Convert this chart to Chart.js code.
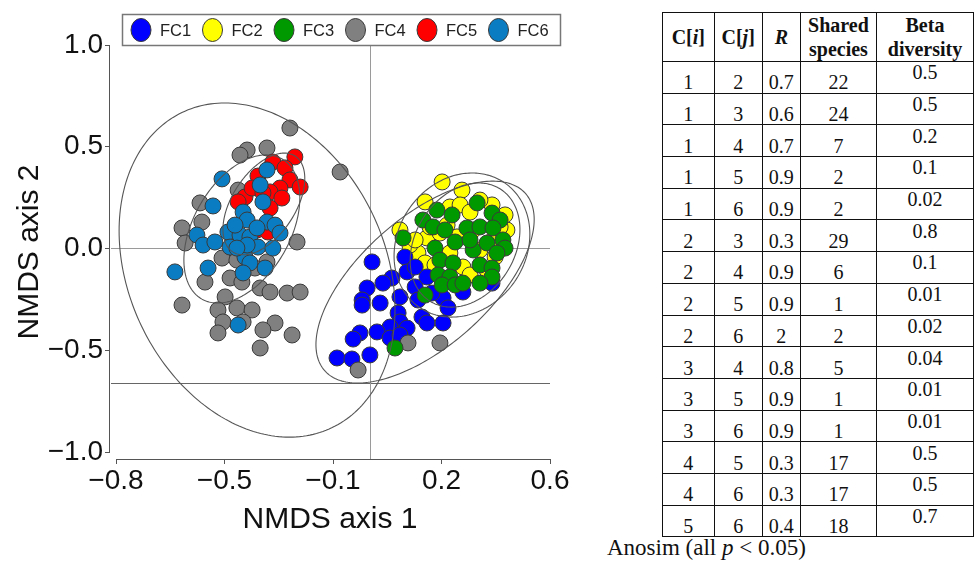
<!DOCTYPE html>
<html><head><meta charset="utf-8">
<script src="https://cdn.jsdelivr.net/npm/chart.js@4.4.1/dist/chart.umd.min.js"></script>
<style>
html,body{margin:0;padding:0;background:#fff;width:974px;height:562px;overflow:hidden;position:relative;}
#wrap{position:absolute;left:0;top:0;width:600px;height:562px;}
#tbl{position:absolute;left:662px;top:12px;border-collapse:collapse;font-family:"Liberation Serif","Times New Roman",serif;font-size:20px;color:#111;table-layout:fixed;}
#tbl td,#tbl th{border:1px solid #111;text-align:center;padding:0;vertical-align:middle;line-height:20px;}
#tbl th{height:46px;line-height:24px;font-weight:bold;}
#tbl td{height:30.7px;}
#tbl td span{position:relative;top:5px;}
#tbl td.beta span{top:-5px;}
#note{position:absolute;left:607px;top:536px;line-height:24px;font-family:"Liberation Serif","Times New Roman",serif;font-size:23px;color:#111;white-space:nowrap;}
</style></head>
<body>
<div id="wrap"><canvas id="c" width="600" height="562"></canvas></div>
<table id="tbl"></table>
<div id="note">Anosim (all <i>p</i> &lt; 0.05)</div>
<script>
// ---------------- data ----------------
const categories = ['FC1','FC2','FC3','FC4','FC5','FC6'];
const seriesColors = ['#0000ff','#ffff00','#009a00','#808080','#ff0000','#0a7dc2'];

const fc1X = [0.026,0.132,0.139,0.165,0.090,0.061,0.010,0.165,0.116,-0.006,0.052,-0.006,0.110,0.116,0.187,0.203,0.255,0.084,0.139,0.042,-0.013,-0.035,0.084,0.116,-0.087,-0.039,0.019,0.255,0.271,0.219,0.203,0.319,0.413,0.174];
const fc1Y = [-0.066,-0.042,-0.115,-0.091,-0.145,-0.170,-0.194,-0.189,-0.238,-0.253,-0.268,-0.278,-0.317,-0.361,-0.337,-0.366,-0.366,-0.386,-0.391,-0.410,-0.415,-0.445,-0.440,-0.425,-0.538,-0.543,-0.523,-0.243,-0.292,-0.219,-0.140,-0.214,-0.170,-0.253];

const fc2X = [0.252,0.316,0.197,0.116,0.277,0.310,0.413,0.342,0.461,0.203,0.174,0.197,0.277,0.319,0.423,0.374,0.416,0.439,0.300,0.245,0.352,0.397,0.213,0.268,0.148,0.229,0.342,0.455,0.374,0.165];
const fc2Y = [0.327,0.287,0.229,0.091,0.204,0.214,0.214,0.179,0.091,0.052,-0.022,-0.071,-0.022,-0.091,-0.042,-0.007,0.042,0.106,0.057,0.076,0.091,-0.106,0.106,0.115,0.017,-0.081,-0.130,0.165,0.238,0.042];

const fc3X = [0.235,0.190,0.284,0.365,0.413,0.439,0.126,0.223,0.261,0.332,0.374,0.416,0.294,0.229,0.352,0.397,0.448,0.455,0.245,0.287,0.374,0.413,0.239,0.277,0.413,0.252,0.294,0.319,0.374,0.197,0.100,0.429,0.342];
const fc3Y = [0.189,0.140,0.165,0.224,0.174,0.140,0.052,0.106,0.091,0.101,0.106,0.101,0.032,0.002,-0.007,0.027,0.042,0.002,-0.057,-0.071,-0.081,-0.096,-0.130,-0.140,-0.140,-0.179,-0.179,-0.170,-0.170,-0.229,-0.489,-0.022,0.042];

const fc4X = [-0.239,-0.377,-0.400,-0.313,-0.077,-0.406,-0.529,-0.523,-0.587,-0.577,-0.216,-0.458,-0.410,-0.513,-0.432,-0.394,-0.313,-0.335,-0.303,-0.248,-0.206,-0.587,-0.448,-0.471,-0.410,-0.361,-0.455,-0.471,-0.390,-0.287,-0.326,-0.232,-0.335,0.142,0.245,-0.019,-0.352];
const fc4Y = [0.592,0.484,0.459,0.494,0.376,0.287,0.224,0.130,0.101,0.027,0.032,-0.047,-0.057,-0.165,-0.145,-0.165,-0.066,-0.194,-0.214,-0.219,-0.214,-0.278,-0.238,-0.302,-0.292,-0.302,-0.361,-0.415,-0.361,-0.366,-0.400,-0.425,-0.489,-0.464,-0.464,-0.597,-0.096];

const fc5X = [-0.294,-0.223,-0.255,-0.342,-0.239,-0.206,-0.271,-0.303,-0.384,-0.406,-0.265,-0.303,-0.361,-0.326,-0.345,-0.310];
const fc5Y = [0.425,0.450,0.396,0.356,0.337,0.302,0.297,0.278,0.253,0.229,0.248,0.199,0.297,0.273,0.091,0.081];

const fc6X = [-0.458,-0.313,-0.487,-0.335,-0.326,-0.390,-0.377,-0.313,-0.287,-0.271,-0.539,-0.519,-0.481,-0.439,-0.432,-0.400,-0.368,-0.342,-0.294,-0.384,-0.368,-0.390,-0.319,-0.503,-0.610,-0.406,-0.345,-0.416,-0.377,-0.410];
const fc6Y = [0.342,0.386,0.209,0.312,0.229,0.179,0.140,0.130,0.115,0.076,0.066,0.017,0.032,0.081,0.007,0.066,0.057,0.007,0.002,-0.042,-0.071,-0.120,-0.096,-0.096,-0.115,-0.376,0.101,0.115,0.017,0.002];

// group ellipses (centre, half-extent x, half-extent y, correlation)
const ellipseCX = [0.197,0.316,0.326,-0.345,-0.323,-0.394];
const ellipseCY = [-0.165,0.017,0.017,-0.106,0.219,0.096];
const ellipseRX = [0.352,0.219,0.177,0.445,0.132,0.187];
const ellipseRY = [0.496,0.354,0.305,0.821,0.250,0.364];
const ellipseCorr = [0.62,0.15,0.25,-0.234,0.50,0.42];

// reference lines
const refLineX = [0.02];
const refLineY = [0, -0.66];

// ticks
const xTickValues = [-0.8,-0.45,-0.1,0.25,0.6];
const xTickLabels = ['\u22120.8','\u22120.5','\u22120.1','0.2','0.6'];
const yTickValues = [-1,-0.5,0,0.5,1];
const yTickLabels = ['\u22121.0','\u22120.5','0.0','0.5','1.0'];

// table
const tableCi = [1,1,1,1,1,2,2,2,2,3,3,3,4,4,5];
const tableCj = [2,3,4,5,6,3,4,5,6,4,5,6,5,6,6];
const tableR = ['0.7','0.6','0.7','0.9','0.9','0.3','0.9','0.9','2','0.8','0.9','0.9','0.3','0.3','0.4'];
const tableShared = [22,24,7,2,2,29,6,1,2,5,1,1,17,17,18];
const tableBeta = ['0.5','0.5','0.2','0.1','0.02','0.8','0.1','0.01','0.02','0.04','0.01','0.01','0.5','0.5','0.7'];

// ---------------- table ----------------
(function(){
  const t = document.getElementById('tbl');
  const widths = [54,50,40,78,100];
  let html = '<colgroup>' + widths.map(w=>'<col style="width:'+w+'px">').join('') + '</colgroup>';
  html += '<tr><th>C[<i>i</i>]</th><th>C[<i>j</i>]</th><th><i>R</i></th><th>Shared<br>species</th><th>Beta<br>diversity</th></tr>';
  for (let k=0;k<tableCi.length;k++){
    html += '<tr><td><span>'+tableCi[k]+'</span></td><td><span>'+tableCj[k]+'</span></td><td><span>'+tableR[k]+'</span></td><td><span>'+tableShared[k]+'</span></td><td class="beta"><span>'+tableBeta[k]+'</span></td></tr>';
  }
  t.innerHTML = html;
})();

// ---------------- chart ----------------
const seriesX = [fc1X,fc2X,fc3X,fc4X,fc5X,fc6X];
const seriesY = [fc1Y,fc2Y,fc3Y,fc4Y,fc5Y,fc6Y];
const drawOrder = [5,6,3,4,2,1];
const FONT = '"Liberation Sans", Arial, sans-serif';

const datasets = categories.map((name,i)=>({
  label: name,
  data: seriesX[i].map((x,k)=>({x:x, y:seriesY[i][k]})),
  backgroundColor: seriesColors[i],
  borderColor: '#3a3a3a',
  borderWidth: 1,
  pointRadius: 8,
  pointHoverRadius: 8,
  order: drawOrder[i]
}));

const decor = {
  id: 'decor',
  beforeDatasetsDraw(chart){
    const {ctx, chartArea:a, scales:{x, y}} = chart;
    ctx.save();
    ctx.lineWidth = 1;
    refLineY.forEach((v,i)=>{
      const py = Math.round(y.getPixelForValue(v)) + 0.5;
      ctx.strokeStyle = i===0 ? '#9a9a9a' : '#666';
      ctx.beginPath(); ctx.moveTo(a.left+1, py); ctx.lineTo(a.right, py); ctx.stroke();
    });
    refLineX.forEach(v=>{
      const px = Math.round(x.getPixelForValue(v)) + 0.5;
      ctx.strokeStyle = '#9a9a9a';
      ctx.beginPath(); ctx.moveTo(px, a.top); ctx.lineTo(px, a.bottom); ctx.stroke();
    });
    ctx.restore();
  },
  afterDatasetsDraw(chart){
    const {ctx, scales:{x, y}} = chart;
    ctx.save();
    ctx.strokeStyle = '#555';
    ctx.lineWidth = 1.1;
    for (let e=0;e<ellipseCX.length;e++){
      const r = ellipseCorr[e], s = Math.sqrt(1-r*r);
      ctx.beginPath();
      for (let k=0;k<=240;k++){
        const t = k/240*2*Math.PI;
        const dx = ellipseRX[e]*Math.cos(t);
        const dy = ellipseRY[e]*(r*Math.cos(t) + s*Math.sin(t));
        const px = x.getPixelForValue(ellipseCX[e]+dx);
        const py = y.getPixelForValue(ellipseCY[e]+dy);
        if (k===0) ctx.moveTo(px,py); else ctx.lineTo(px,py);
      }
      ctx.closePath(); ctx.stroke();
    }
    ctx.restore();
  },
  afterDraw(chart){
    const {ctx, chartArea:a, scales:{x, y}} = chart;
    ctx.save();
    // axis lines
    ctx.strokeStyle = '#555'; ctx.lineWidth = 1;
    const ax = Math.round(a.left) - 0.5;
    ctx.beginPath(); ctx.moveTo(ax, y.getPixelForValue(yTickValues[yTickValues.length-1])); ctx.lineTo(ax, y.getPixelForValue(yTickValues[0])); ctx.stroke();
    const ay = Math.round(a.bottom) + 0.5;
    ctx.beginPath(); ctx.moveTo(x.getPixelForValue(xTickValues[0]), ay); ctx.lineTo(x.getPixelForValue(xTickValues[xTickValues.length-1]), ay); ctx.stroke();
    // legend
    const L = 122, T = 14, R = 560, B = 45;
    ctx.fillStyle = '#fff'; ctx.fillRect(L, T, R-L, B-T);
    ctx.strokeStyle = '#777'; ctx.lineWidth = 1.5; ctx.strokeRect(L+0.5, T+0.5, R-L, B-T);
    ctx.font = '16.5px ' + FONT; ctx.textBaseline = 'middle'; ctx.textAlign = 'left';
    chart.data.datasets.forEach((ds,i)=>{
      const cx = 141 + i*71.5, cy = (T+B)/2 + 0.5;
      ctx.beginPath(); ctx.ellipse(cx, cy, 10, 11.5, 0, 0, Math.PI*2);
      ctx.fillStyle = ds.backgroundColor; ctx.fill();
      ctx.strokeStyle = '#3a3a3a'; ctx.lineWidth = 1; ctx.stroke();
      ctx.fillStyle = '#222';
      ctx.fillText(ds.label, cx + 19, cy + 1);
    });
    ctx.restore();
  }
};

new Chart(document.getElementById('c'), {
  type: 'scatter',
  data: { datasets },
  options: {
    responsive: false,
    animation: false,
    events: [],
    layout: { padding: { top: 45, right: 50, left: 0, bottom: 0 } },
    plugins: { legend: { display: false }, tooltip: { enabled: false } },
    scales: {
      x: {
        type: 'linear',
        min: -0.8 - 6/310,
        max: 0.6,
        afterBuildTicks: s => { s.ticks = xTickValues.map(v=>({value:v})); },
        afterFit: s => { s.height = 103; },
        ticks: { autoSkip:false, maxRotation:0, padding: 0, color:'#111', font:{family:FONT, size:28},
          callback: (v, idx) => xTickLabels[idx] },
        grid: { drawOnChartArea:false, drawTicks:true, tickLength:5, color:'#555' },
        border: { display:false },
        title: { display:true, text:'NMDS axis 1', color:'#111', font:{family:FONT, size:30}, padding:{top:0, bottom:24} }
      },
      y: {
        type: 'linear',
        min: -1.0 - 7/203.5,
        max: 1.0,
        afterBuildTicks: s => { s.ticks = yTickValues.map(v=>({value:v})); },
        afterFit: s => { s.width = 110; },
        ticks: { autoSkip:false, padding: 2, color:'#111', font:{family:FONT, size:28},
          callback: (v, idx) => yTickLabels[idx] },
        grid: { drawOnChartArea:false, drawTicks:true, tickLength:5, color:'#555' },
        border: { display:false },
        title: { display:true, text:'NMDS axis 2', color:'#111', font:{family:FONT, size:30}, padding:{top:12, bottom:0} }
      }
    }
  },
  plugins: [decor]
});
</script>
</body></html>
